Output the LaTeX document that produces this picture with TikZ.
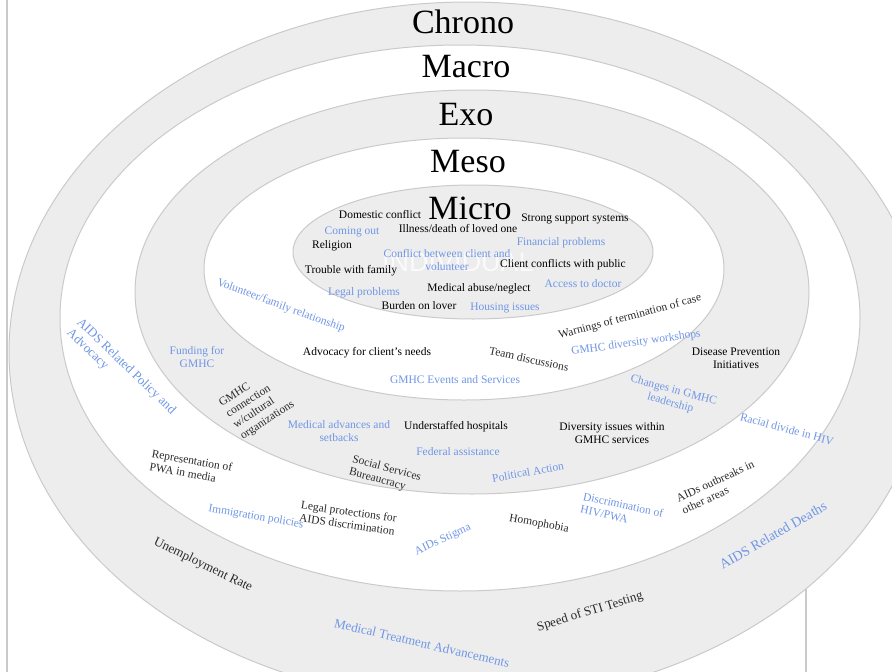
\documentclass[tikz,border=0pt]{standalone}
\usepackage{fontspec}
\setmainfont{Liberation Serif}
\newfontfamily\watermarkfont{Liberation Sans}
\usepackage{tikz}
\definecolor{band_gray}{HTML}{EDEDED}
\definecolor{edge_gray}{HTML}{CACACA}
\definecolor{label_blue}{HTML}{7096E6}
\definecolor{label_dark}{HTML}{2A2A2A}

\begin{document}
\begin{tikzpicture}[
            x=1pt,
            y=-1pt,
            line cap=round,
            line join=round,
            band/.style={fill=band_gray, draw=edge_gray, line width=1},
            gap/.style={fill=white, draw=edge_gray, line width=1},
            level/.style={font=\fontsize{34}{36}\selectfont, inner sep=0pt},
            lbl/.style={font=\fontsize{11.5}{13}\selectfont, align=center, inner sep=0pt},
            blu/.style={lbl, text=label_blue},
            blk/.style={lbl, text=black},
            drk/.style={lbl, text=label_dark},
            big/.style={font=\fontsize{13}{14.5}\selectfont}
        ]
            \useasboundingbox (0,0) rectangle (892,672);
            \clip (0,0) rectangle (892,672);

            % Frame lines behind the rings
            \draw[edge_gray, line width=1.5] (7,0) -- (7,672);
            \draw[edge_gray, line width=1.5] (293,640) -- (293,672);
            \draw[edge_gray, line width=1.5] (806,560) -- (806,672);

            % Rings, outer to inner
            \draw[band] (468,352) ellipse [x radius=459, y radius=350];
            \draw[gap]  (460,318) ellipse [x radius=400, y radius=273];
            \draw[band] (472,292) ellipse [x radius=337, y radius=202];
            \draw[gap]  (464,269) ellipse [x radius=260, y radius=131];
            \draw[band] (473,252) ellipse [x radius=180, y radius=67];

            % Level names
            \node[level] (chrono) at (463,22) {Chrono};
            \node[level] (macro) at (466,67) {Macro};
            \node[level] (exo) at (466,115) {Exo};
            \node[level] (meso) at (468,162) {Meso};
            \node[level] (micro) at (470,208) {Micro};

            % Micro (individual)
            \node[text=white, opacity=0.75, font=\watermarkfont\fontsize{27}{28}\selectfont] (indiv) at (458,262) {INDIVIDUAL};
            \node[blk] (domestic) at (380,215) {Domestic conflict};
            \node[blk] (illness) at (458,229) {Illness/death of loved one};
            \node[blk] (support) at (575,219) {Strong support systems};
            \node[blu] (comingout) at (352,232) {Coming out};
            \node[blk] (religion) at (332,246) {Religion};
            \node[blu] (finance) at (561,243) {Financial problems};
            \node[blu] (volconflict) at (447,260) {Conflict between client and\\volunteer};
            \node[blk] (public) at (563,265) {Client conflicts with public};
            \node[blk] (family) at (351,271) {Trouble with family};
            \node[blu] (doctor) at (583,284) {Access to doctor};
            \node[blu] (legal) at (364,293) {Legal problems};
            \node[blk] (abuse) at (479,289) {Medical abuse/neglect};
            \node[blk] (lover) at (419,306) {Burden on lover};
            \node[blu] (housing) at (505,308) {Housing issues};

            % Meso
            \node[blu, rotate=-20] (volfamily) at (281,306) {Volunteer/family relationship};
            \node[blk] (advocacy) at (367,353) {Advocacy for client's needs};
            \node[drk, rotate=-12] (team) at (529,359) {Team discussions};
            \node[drk, rotate=15] (warnings) at (630,317) {Warnings of termination of case};
            \node[blu, rotate=8] (workshops) at (636,343) {GMHC diversity workshops};
            \node[blu] (events) at (455,380) {GMHC Events and Services};

            % Exo
            \node[blu] (funding) at (197,357) {Funding for\\GMHC};
            \node[drk, align=left, rotate=33] (cultural) at (257,404) {GMHC\\connection\\w/cultural\\organizations};
            \node[blu] (medadv) at (339,431) {Medical advances and\\setbacks};
            \node[blk] (hospitals) at (456,427) {Understaffed hospitals};
            \node[blk] (diversity) at (612,433) {Diversity issues within\\GMHC services};
            \node[blk] (prevention) at (736,358) {Disease Prevention\\Initiatives};
            \node[blu, rotate=-15] (leadership) at (672,397) {Changes in GMHC\\leadership};
            \node[blu] (federal) at (458,452) {Federal assistance};
            \node[drk, align=left, rotate=-15] (bureau) at (385,475) {Social Services\\Bureaucracy};
            \node[blu, rotate=10] (political) at (528,472) {Political Action};

            % Macro
            \node[blu, big, align=left, rotate=-44] (policy) at (121,372) {AIDS Related Policy and\\Advocacy};
            \node[blu, rotate=-15] (racial) at (787,429) {Racial divide in HIV};
            \node[drk, align=left, rotate=-10] (media) at (191,467) {Representation of\\PWA in media};
            \node[blu, rotate=-10] (immigration) at (256,517) {Immigration policies};
            \node[drk, align=left, rotate=-8] (protections) at (348,518) {Legal protections for\\AIDS discrimination};
            \node[blu, rotate=25] (stigma) at (443,540) {AIDs Stigma};
            \node[drk, rotate=-10] (homophobia) at (539,524) {Homophobia};
            \node[blu, align=left, rotate=-12] (discrim) at (622,511) {Discrimination of\\HIV/PWA};
            \node[drk, align=left, rotate=25] (outbreaks) at (718,487) {AIDs outbreaks in\\other areas};

            % Chrono
            \node[drk, big, rotate=-26] (unemploy) at (203,565) {Unemployment Rate};
            \node[blu, big, rotate=-13] (medtreat) at (422,643) {Medical Treatment Advancements};
            \node[drk, big, rotate=17] (testing) at (590,612) {Speed of STI Testing};
            \node[blu, rotate=30, font=\fontsize{14}{15}\selectfont] (deaths) at (773,535) {AIDS Related Deaths};
        \end{tikzpicture}
\end{document}
